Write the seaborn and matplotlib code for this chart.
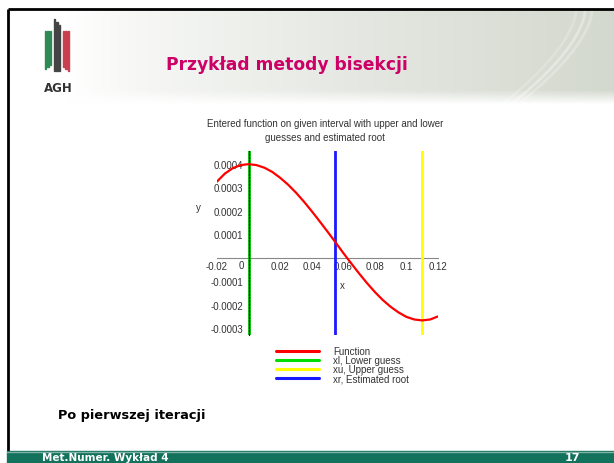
import numpy as np
import pandas as pd
import seaborn as sns
import matplotlib.pyplot as plt
from matplotlib.lines import Line2D
from matplotlib.patches import Rectangle

# ---------------------------------------------------------
# Data (function curve, guesses)
# ---------------------------------------------------------
x_vals = [-0.02, -0.015, -0.01, -0.005, 0.0, 0.005, 0.01, 0.015, 0.02, 0.025,
          0.03, 0.035, 0.04, 0.045, 0.05, 0.055, 0.06, 0.065, 0.07, 0.075,
          0.08, 0.085, 0.09, 0.095, 0.10, 0.105, 0.11, 0.115, 0.12]
y_vals = [0.000325, 0.000359, 0.000382, 0.000395, 0.000399, 0.000395, 0.000384,
          0.000366, 0.000341, 0.000312, 0.000278, 0.000240, 0.000199, 0.000156,
          0.000112, 0.000067, 0.000021, -0.000023, -0.000066, -0.000107,
          -0.000145, -0.000179, -0.000208, -0.000232, -0.000251, -0.000262,
          -0.000266, -0.000262, -0.000249]

x_lower = 0.0
x_upper = 0.11
x_root = 0.055

xtick_vals = [-0.02, 0.02, 0.04, 0.06, 0.08, 0.1, 0.12]
xtick_labels = ["-0.02", "0.02", "0.04", "0.06", "0.08", "0.1", "0.12"]
ytick_vals = [0.0004, 0.0003, 0.0002, 0.0001, -0.0001, -0.0002, -0.0003]
ytick_labels = ["0.0004", "0.0003", "0.0002", "0.0001", "-0.0001", "-0.0002", "-0.0003"]

legend_labels = ["Function", "xl, Lower guess", "xu, Upper guess", "xr, Estimated root"]

df = pd.DataFrame({"x": x_vals, "y": y_vals})

# ---------------------------------------------------------
# Styling
# ---------------------------------------------------------
sns.set_style("white")
plt.rcParams["font.family"] = ["DejaVu Sans"]

W, H = 614, 464
fig = plt.figure(figsize=(W / 100, H / 100), dpi=100)

def fxp(px):
    return px / W

def fyp(py):
    return 1 - py / H

SMALL = 7.0
GREY_TXT = "#333333"
SMALL_FONT = ["Liberation Sans", "DejaVu Sans"]

# ---------------------------------------------------------
# Slide background (header, border, footer, logo)
# ---------------------------------------------------------
bg = fig.add_axes([0, 0, 1, 1], zorder=-5)
bg.set_xlim(0, W)
bg.set_ylim(H, 0)
bg.axis("off")

gx = np.linspace(0, 1, 300)
gy = np.linspace(0, 1, 60)
GX, GY = np.meshgrid(gx, gy)
t = np.clip((GX - 0.1) / 0.9, 0, 1) ** 0.8
fade = np.clip((1 - GY) / 0.15, 0, 1)
t = t * fade
c0 = np.array([1.0, 1.0, 1.0])
c1 = np.array([0.83, 0.85, 0.81])
img = c0[None, None, :] * (1 - t[..., None]) + c1[None, None, :] * t[..., None]
bg.imshow(img, extent=[9, W, 106, 11], aspect="auto", zorder=0)

# faint swoosh lines on the right of the header
for off, a in [(0, 0.35), (7, 0.25), (-9, 0.2)]:
    ss = np.linspace(0, 1, 50)
    sx = 585 + off - 75 * ss ** 1.6
    sy = 12 + 94 * ss
    bg.plot(sx, sy, color="white", lw=2.0, alpha=a, zorder=1)

bg.plot([8, W], [10, 10], color="black", lw=2, zorder=3, solid_capstyle="butt")
bg.plot([8, 8], [10, 453], color="black", lw=2, zorder=3, solid_capstyle="butt")

bg.add_patch(Rectangle((7, 452), W - 7, 12, color="#13725c", zorder=3))
bg.plot([7, W], [452.5, 452.5], color="#7fb3a6", lw=1, zorder=4)

fig.text(fxp(42), fyp(458.5), "Met.Numer. Wykład 4", color="white", fontsize=7.5,
         fontweight="bold", va="center", ha="left")
fig.text(fxp(572), fyp(458), "17", color="white", fontsize=8,
         fontweight="bold", va="center", ha="center")

# AGH logo (simplified stripes)
for i in range(3):
    bg.add_patch(Rectangle((44.5 + 2.7 * i, 32), 1.5, 38 - 2 * i, color="#2e8b57", zorder=3))
for i in range(3):
    bg.add_patch(Rectangle((53.5 + 2.7 * i, 20 + 3 * i), 1.5, 52 - 3 * i, color="#444444", zorder=3))
for i in range(3):
    bg.add_patch(Rectangle((62.5 + 2.7 * i, 32), 1.5, 40 - 2 * (2 - i), color="#c8404f", zorder=3))
fig.text(fxp(58), fyp(88), "AGH", color="#333333", fontsize=8.5,
         fontweight="bold", ha="center", va="center")

fig.text(fxp(287), fyp(65), "Przykład metody bisekcji", color="#cc0066",
         fontsize=12.3, fontweight="bold", ha="center", va="center")

fig.text(fxp(58), fyp(416), "Po pierwszej iteracji", color="black",
         fontsize=9.3, fontweight="bold", ha="left", va="center")

# ---------------------------------------------------------
# Chart
# ---------------------------------------------------------
ax = fig.add_axes([fxp(217), fyp(336), (438 - 217) / W, (336 - 152) / H])
ax.patch.set_alpha(0)

sns.lineplot(data=df, x="x", y="y", ax=ax, color="#ff0000", lw=1.6, zorder=5)
ax.axvline(x_lower, color="#00c000", lw=2.0, zorder=3)
ax.axvline(x_upper, color="#ffff00", lw=2.0, zorder=3)
ax.axvline(x_root, color="#1a1aff", lw=2.0, zorder=3)

ax.set_xlim(-0.02, 0.12)
ax.set_ylim(-0.000328, 0.000455)

for side in ["top", "right"]:
    ax.spines[side].set_visible(False)
ax.spines["left"].set_position(("data", 0))
ax.spines["bottom"].set_position(("data", 0))
ax.spines["left"].set_color("#111111")
ax.spines["left"].set_linewidth(0.8)
ax.spines["left"].set_linestyle((0, (1.5, 1.5)))
ax.spines["left"].set_zorder(4)
ax.spines["bottom"].set_color("#888888")
ax.spines["bottom"].set_linewidth(0.8)

ax.set_xticks(xtick_vals)
ax.set_xticklabels(xtick_labels)
ax.set_yticks(ytick_vals)
ax.set_yticklabels(ytick_labels)
ax.set_xticks(np.arange(-0.02, 0.1201, 0.005), minor=True)
ax.set_yticks(np.arange(-0.0003, 0.00045, 0.00002), minor=True)

ax.tick_params(axis="x", which="major", direction="in", length=2.5, width=0.6,
               color="#666666", pad=2.5, labelsize=SMALL, labelcolor=GREY_TXT)
ax.tick_params(axis="x", which="minor", direction="in", length=1.2, width=0.5,
               color="#666666")
ax.tick_params(axis="y", which="major", direction="out", length=2.5, width=0.6,
               color="#333333", pad=1.2, labelsize=SMALL, labelcolor=GREY_TXT)
ax.tick_params(axis="y", which="minor", direction="out", length=1.0, width=0.5,
               color="#333333")
for lab in ax.get_xticklabels() + ax.get_yticklabels():
    lab.set_family(SMALL_FONT)

ax.set_xlabel("")
ax.set_ylabel("")
fig.text(fxp(241), fyp(266), "0", fontsize=SMALL, color=GREY_TXT,
         family=SMALL_FONT, ha="center", va="center")
fig.text(fxp(198), fyp(208), "y", fontsize=SMALL, color=GREY_TXT,
         family=SMALL_FONT, ha="center", va="center")
fig.text(fxp(342), fyp(286), "x", fontsize=SMALL, color=GREY_TXT,
         family=SMALL_FONT, ha="center", va="center")

fig.text(fxp(325), fyp(124), "Entered function on given interval with upper and lower",
         fontsize=SMALL, color=GREY_TXT, family=SMALL_FONT,
         ha="center", va="center")
fig.text(fxp(325), fyp(138), "guesses and estimated root",
         fontsize=SMALL, color=GREY_TXT, family=SMALL_FONT,
         ha="center", va="center")

handles = [Line2D([], [], color=c, lw=2.2)
           for c in ["#ff0000", "#00dd00", "#ffff00", "#1a1aff"]]
leg = fig.legend(handles, legend_labels, loc="upper left",
                 bbox_to_anchor=(fxp(276), fyp(347)), frameon=False,
                 handlelength=4.4, handletextpad=1.5, labelspacing=-0.1,
                 borderpad=0, borderaxespad=0,
                 prop={"family": "Liberation Sans", "size": SMALL})
for txt in leg.get_texts():
    txt.set_color(GREY_TXT)

fig.savefig("out.png", dpi=100)
